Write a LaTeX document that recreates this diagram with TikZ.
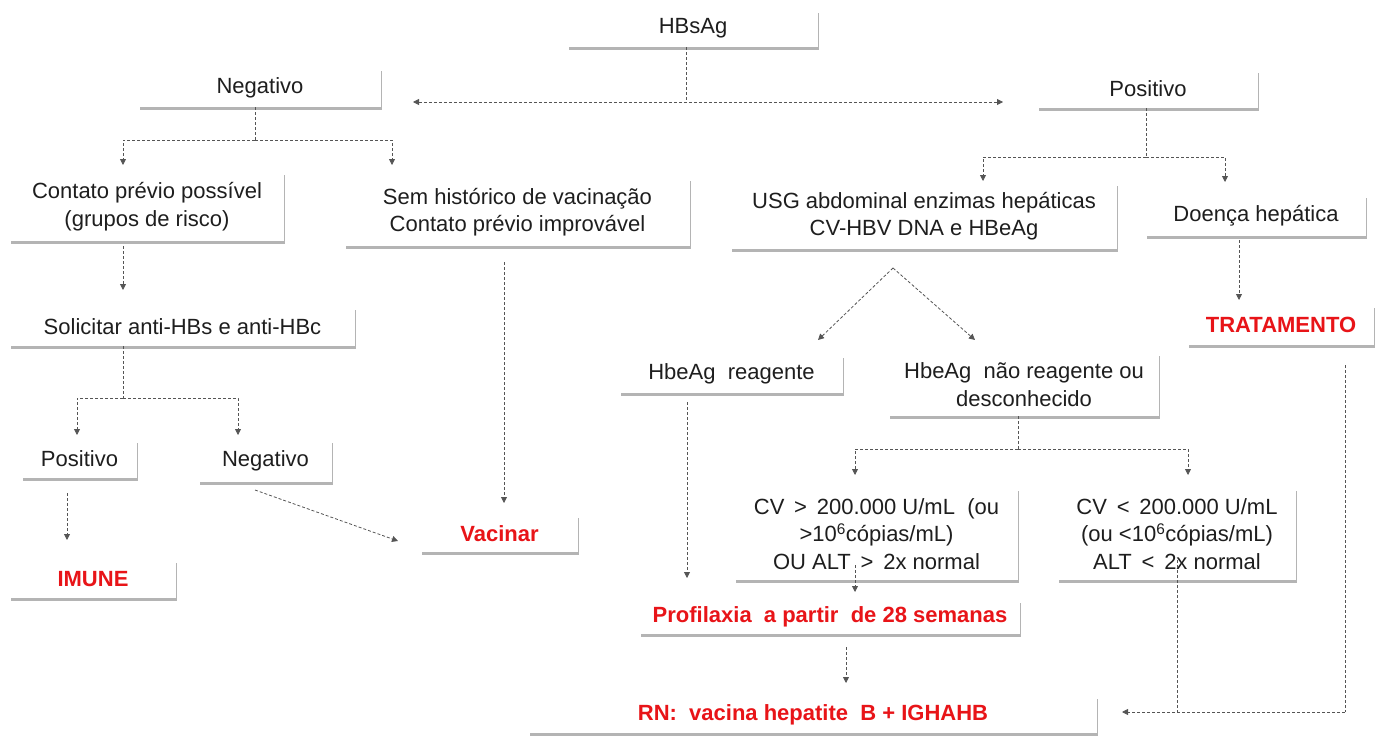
\documentclass[tikz,border=0pt]{standalone}
\usepackage{fontspec}
\setmainfont{Liberation Sans}
\usetikzlibrary{shadows,arrows.meta}
\definecolor{myred}{RGB}{232,20,24}
\definecolor{txt}{RGB}{30,30,30}
\definecolor{lin}{RGB}{85,85,85}
\newcommand{\fs}{\fontsize{22}{27.5}\selectfont}
\tikzset{
  box/.style={fill=white, inner sep=0pt, align=center, text=txt, font=\fs,
    drop shadow={shadow xshift=0.6pt, shadow yshift=-2.5pt, fill=black!45, opacity=0.65}},
  redbox/.style={box, text=myred, font=\fs\bfseries},
  conn/.style={draw=lin, dash pattern=on 3pt off 2pt, line width=0.8pt},
  arr/.style={conn, -{Triangle[length=6pt,width=6pt]}}
}
\begin{document}
\begin{tikzpicture}[x=1pt,y=-1pt]
\useasboundingbox (0,0) rectangle (1384,736);
% nodes
\node[box, minimum width=250, minimum height=37] (hbsag) at (693,28.5) {HBsAg};
\node[box, minimum width=242, minimum height=39] (negT) at (260,87.5) {Negativo};
\node[box, minimum width=220, minimum height=38] (posT) at (1148,89) {Positivo};
\node[box, minimum width=274, minimum height=69] (contato) at (147,206.5) {Contato prévio possível\\(grupos de risco)};
\node[box, minimum width=345, minimum height=68] (sem) at (517.5,212) {Sem histórico de vacinação\\Contato prévio improvável};
\node[box, minimum width=386, minimum height=66] (usg) at (924,216) {USG abdominal enzimas hepáticas\\CV-HBV DNA e HBeAg};
\node[box, minimum width=220, minimum height=41] (doenca) at (1256,215.5) {Doença hepática};
\node[box, minimum width=345, minimum height=39] (solic) at (182.5,326.5) {Solicitar anti-HBs e anti-HBc};
\node[box, minimum width=115, minimum height=38] (posL) at (79.5,459) {Positivo};
\node[box, minimum width=133, minimum height=42] (negL) at (265.5,461) {Negativo};
\node[redbox, minimum width=166, minimum height=38] (imune) at (93,579) {IMUNE};
\node[redbox, minimum width=157, minimum height=37] (vacinar) at (499.5,533.5) {Vacinar};
\node[box, minimum width=223, minimum height=38] (reag) at (731.5,374) {HbeAg\ \ reagente};
\node[box, minimum width=270, minimum height=63] (naoreag) at (1024,384.5) {HbeAg\ \ não reagente ou\\desconhecido};
\node[box, minimum width=283, minimum height=92] (cvgt) at (876.5,534) {CV \,>\, 200.000 U/mL\ \ (ou\\>10\textsuperscript{6}cópias/mL)\\OU ALT \,>\, 2x normal};
\node[box, minimum width=238, minimum height=92] (cvlt) at (1177,534) {CV \,<\, 200.000 U/mL\\(ou <10\textsuperscript{6}cópias/mL)\\ALT \,<\, 2x normal};
\node[redbox, minimum width=380, minimum height=34] (profi) at (830,617) {Profilaxia\ \ a partir\ \ de 28 semanas};
\node[redbox, minimum width=568, minimum height=37] (rn) at (813,714.5) {RN:\ \ vacina hepatite\ \ B + IGHAHB};
\node[redbox, minimum width=186, minimum height=40] (trat) at (1281,325) {TRATAMENTO};
% coordinates
\coordinate (j1) at (686,102);
\coordinate (dl) at (413,102);
\coordinate (dr) at (1003,102);
\coordinate (n1) at (255,140);
\coordinate (nca) at (123,165);
\coordinate (nsa) at (392,165);
\coordinate (p1) at (1146,157);
\coordinate (pua) at (983,181);
\coordinate (pda) at (1225,182);
\coordinate (c1) at (123,246);
\coordinate (c2) at (123,290);
\coordinate (s1) at (123,398);
\coordinate (spa) at (77,435);
\coordinate (sna) at (238,435);
\coordinate (pl1) at (67,493);
\coordinate (pl2) at (67,540);
\coordinate (nl1) at (255,490);
\coordinate (nl2) at (398,541);
\coordinate (sm1) at (504,262);
\coordinate (sm2) at (504,503);
\coordinate (u1) at (893,268);
\coordinate (ua) at (818,340);
\coordinate (ub) at (975,340);
\coordinate (d1) at (1239,240);
\coordinate (d2) at (1239,300);
\coordinate (r1) at (687,402);
\coordinate (r2) at (687,578);
\coordinate (nr1) at (1018,449);
\coordinate (nra) at (855,475);
\coordinate (nrb) at (1188,475);
\coordinate (g1) at (855,565);
\coordinate (g2) at (855,592);
\coordinate (f1) at (846,647);
\coordinate (f2) at (846,683);
\coordinate (t1) at (1345,365);
\coordinate (t2) at (1345,712);
\coordinate (l1) at (1177,560);
\coordinate (l2) at (1177,712);
\coordinate (rnin) at (1122,712);
% connectors
\draw[conn] (hbsag.south -| j1) -- (j1);
\draw[conn, {Triangle[length=6pt,width=6pt]}-{Triangle[length=6pt,width=6pt]}] (dl) -- (dr);
\draw[conn] (negT.south -| n1) -- (n1);
\draw[arr] (n1) -| (nca);
\draw[arr] (n1) -| (nsa);
\draw[conn] (posT.south -| p1) -- (p1);
\draw[arr] (p1) -| (pua);
\draw[arr] (p1) -| (pda);
\draw[arr] (c1) -- (c2);
\draw[conn] (solic.south -| s1) -- (s1);
\draw[arr] (s1) -| (spa);
\draw[arr] (s1) -| (sna);
\draw[arr] (pl1) -- (pl2);
\draw[arr] (nl1) -- (nl2);
\draw[arr] (sm1) -- (sm2);
\draw[arr] (u1) -- (ua);
\draw[arr] (u1) -- (ub);
\draw[arr] (d1) -- (d2);
\draw[arr] (r1) -- (r2);
\draw[conn] (naoreag.south -| nr1) -- (nr1);
\draw[arr] (nr1) -| (nra);
\draw[arr] (nr1) -| (nrb);
\draw[arr] (g1) -- (g2);
\draw[arr] (f1) -- (f2);
\draw[conn] (t1) -- (t2);
\draw[conn] (l1) -- (l2);
\draw[arr] (t2) -- (rnin);
\end{tikzpicture}
\end{document}
